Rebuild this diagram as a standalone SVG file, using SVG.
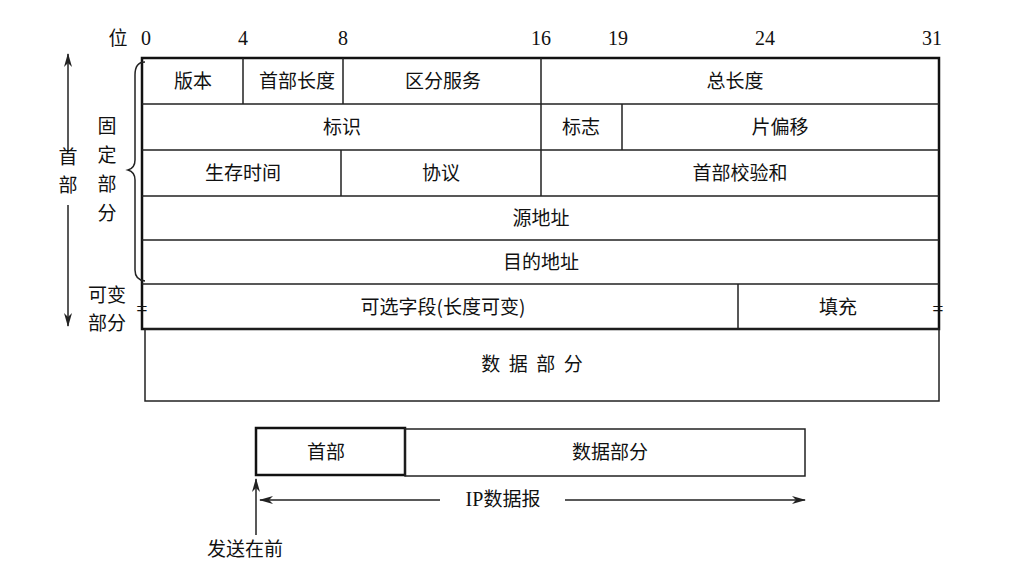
<svg xmlns="http://www.w3.org/2000/svg" width="1035" height="575" viewBox="0 0 1035 575">
<style>
text{font-family:"Liberation Serif","Noto Sans CJK SC",serif;font-size:20px;fill:#111;text-anchor:middle}
.c{font-family:"Noto Sans CJK SC",sans-serif;font-size:19px}
.l{stroke:#222;stroke-width:1.5;fill:none}
.t{stroke:#111;stroke-width:2.5;fill:none}
</style>
<defs><marker id="a" markerWidth="14" markerHeight="8" refX="13" refY="4" orient="auto" markerUnits="userSpaceOnUse"><path d="M0,0L14,4L0,8L4,4Z" fill="#222"/></marker></defs>
<rect width="1035" height="575" fill="#fff"/>
<g id="bits">
<text x="118" y="45" class="c">位</text>
<text x="146" y="45">0</text><text x="243" y="45">4</text><text x="343" y="45">8</text>
<text x="541" y="45">16</text><text x="618" y="45">19</text><text x="765" y="45">24</text><text x="932" y="45">31</text>
</g>
<g id="header">
<rect class="t" x="142" y="58" width="797" height="271"/>
<path class="l" d="M142,104H939M142,150H939M142,196H939M142,240H939M142,284H939M243,58V104M343,58V104M541,58V196M622,104V150M341,150V196M738,284V329"/>
<text class="c" x="193" y="88">版本</text><text class="c" x="297" y="88">首部长度</text><text class="c" x="443" y="88">区分服务</text><text class="c" x="735" y="88">总长度</text>
<text class="c" x="342" y="134">标识</text><text class="c" x="581" y="134">标志</text><text class="c" x="780" y="134">片偏移</text>
<text class="c" x="243" y="180">生存时间</text><text class="c" x="441" y="180">协议</text><text class="c" x="740" y="180">首部校验和</text>
<text class="c" x="541" y="225">源地址</text><text class="c" x="541" y="269">目的地址</text>
<text class="c" x="443" y="314">可选字段(长度可变)</text><text class="c" x="838" y="314">填充</text>
<text x="142" y="316">=</text><text x="938" y="316">=</text>
</g>
<g id="data"><rect class="l" x="145" y="329" width="794" height="72"/>
<text class="c" x="532" y="371" xml:space="preserve">数  据  部  分</text></g>
<g id="labels">
<text class="c" x="68" y="164">首</text><text class="c" x="68" y="192">部</text>
<text class="c" x="107" y="133">固</text><text class="c" x="107" y="162">定</text><text class="c" x="107" y="191">部</text><text class="c" x="107" y="220">分</text>
<text class="c" x="107" y="302">可变</text><text class="c" x="107" y="330">部分</text>
<path class="l" d="M145,62Q135,62 135,75V160Q135,168 128,170Q135,172 135,180V270Q135,280 145,281"/>
</g>
<g id="packet">
<rect class="t" x="256" y="428" width="149" height="47"/>
<rect class="l" x="405" y="429" width="400" height="47"/>
<text class="c" x="326" y="459">首部</text><text class="c" x="610" y="459">数据部分</text>
<text x="503" y="506">IP<tspan class="c">数据报</tspan></text>
<text class="c" x="245" y="556">发送在前</text>
</g>
<g id="connectors">
<path class="l" d="M68,150V54" marker-end="url(#a)"/><path class="l" d="M68,205V326" marker-end="url(#a)"/>
<path class="l" d="M440,500H260" marker-end="url(#a)"/><path class="l" d="M565,500H805" marker-end="url(#a)"/>
<path class="l" d="M256,535V479" marker-end="url(#a)"/>
</g>
</svg>
